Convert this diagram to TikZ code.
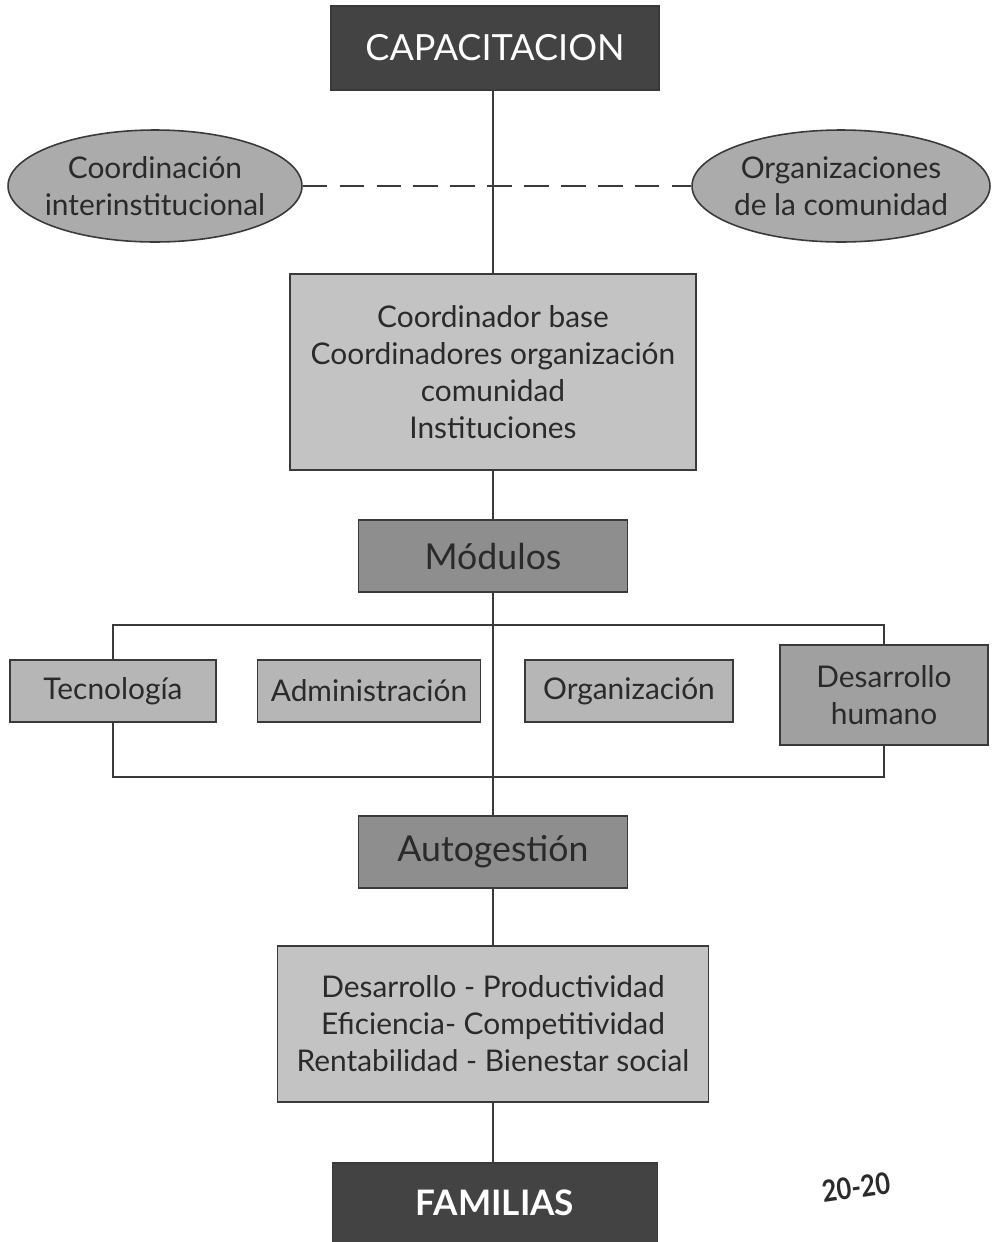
\documentclass[tikz,border=0pt]{standalone}
\usepackage{fontspec}
\setmainfont{Lato}
\usetikzlibrary{shapes.geometric}
\definecolor{edge}{HTML}{3A3A3A}
\definecolor{txt}{HTML}{2A2A2A}
\definecolor{darkfill}{HTML}{434343}
\definecolor{lightfill}{HTML}{C3C3C3}
\definecolor{ellfill}{HTML}{ABABAB}
\definecolor{midfill}{HTML}{8E8E8E}
\definecolor{modfill}{HTML}{B6B6B6}
\definecolor{dhfill}{HTML}{A0A0A0}
\begin{document}
\begin{tikzpicture}[x=0.02cm,y=-0.02cm,
  base/.style={draw=edge, line width=0.9pt, text=txt, align=center, inner sep=0pt,
    font=\fontsize{17}{21}\selectfont},
  darkbox/.style={base, fill=darkfill, text=white, font=\fontsize{20.5}{21}\selectfont},
  lightbox/.style={base, fill=lightfill},
  midbox/.style={base, fill=midfill, font=\fontsize{20.3}{21}\selectfont},
  modbox/.style={base, fill=modfill},
  ell/.style={base, ellipse, fill=ellfill, inner xsep=-2mm, inner ysep=0pt, font=\fontsize{17}{21}\selectfont},
  conn/.style={draw=edge, line width=0.6pt}
]
\useasboundingbox (0,0) rectangle (995,1242);
\fill[white] (0,0) rectangle (995,1242);

\node[darkbox, minimum width=6.56cm, minimum height=1.68cm] (cap) at (495,48) {CAPACITACION};
\node[ell, minimum width=5.88cm, minimum height=2.24cm] (ci) at (155,186) {Coordinación\\interinstitucional};
\node[ell, minimum width=5.96cm, minimum height=2.24cm] (oc) at (841,186) {Organizaciones\\de la comunidad};
\node[lightbox, minimum width=8.12cm, minimum height=3.92cm] (coord) at (493,372)
  {Coordinador base\\Coordinadores organización\\comunidad\\Instituciones};
\node[midbox, minimum width=5.38cm, minimum height=1.44cm] (mod) at (493,556) {Módulos};
\node[modbox, minimum width=4.12cm, minimum height=1.24cm] (tec) at (113,691) {Tecnología};
\node[modbox, minimum width=4.46cm, minimum height=1.24cm] (adm) at (369,691) {Administración};
\node[modbox, minimum width=4.16cm, minimum height=1.24cm] (org) at (629,691) {Organización};
\node[base, fill=dhfill, minimum width=4.16cm, minimum height=2.0cm] (dh) at (884,695) {Desarrollo\\humano};
\node[midbox, minimum width=5.38cm, minimum height=1.44cm] (auto) at (493,852) {Autogestión};
\node[lightbox, minimum width=8.62cm, minimum height=3.12cm] (res) at (493,1024)
  {Desarrollo - Productividad\\Eficiencia- Competitividad\\Rentabilidad - Bienestar social};
\node[darkbox, font=\bfseries\fontsize{20}{21}\selectfont, minimum width=6.5cm, minimum height=1.6cm] (fam) at (495,1203) {FAMILIAS};
\node[text=txt, font=\bfseries\fontsize{17}{18}\selectfont, rotate=8, xscale=0.85, inner sep=0pt] (num) at (856,1187) {20-20};

\coordinate (bt) at (493,625);
\coordinate (bb) at (493,777);
\coordinate (btl) at (113,625);
\coordinate (btr) at (884,625);
\coordinate (bbl) at (113,777);
\coordinate (bbr) at (884,777);

\draw[conn] (cap.south -| coord.north) -- (coord.north);
\draw[conn, dashed, dash pattern=on 14pt off 7pt, line width=0.8pt] (ci.east) -- (oc.west);
\draw[conn] (coord.south) -- (mod.north);
\draw[conn] (mod.south) -- (bt) -- (bb) -- (auto.north);
\draw[conn] (tec.north) -- (btl) -- (btr) -- (dh.north);
\draw[conn] (tec.south) -- (bbl) -- (bbr) -- (dh.south);
\draw[conn] (auto.south) -- (res.north);
\draw[conn] (res.south) -- (res.south |- fam.north);
\end{tikzpicture}
\end{document}
